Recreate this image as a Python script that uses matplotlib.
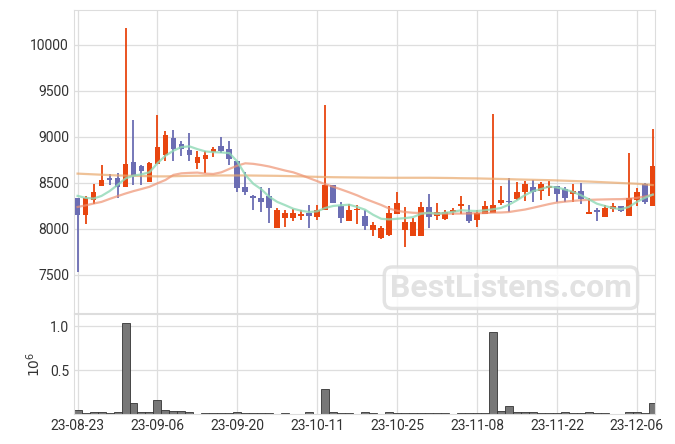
import numpy as np
import matplotlib
matplotlib.use("Agg")
import matplotlib.pyplot as plt

plt.rcParams['font.family'] = ['Roboto', 'DejaVu Sans']

# OHLC (one entry per trading day, 23-08-23 .. 23-12-08)
opens = [8330, 8150, 8310, 8470, 8550, 8550, 8450, 8730, 8680, 8510,
         8700, 8800, 8990, 8920, 8860, 8720, 8760, 8840, 8900, 8870,
         8740, 8450, 8360, 8340, 8360, 8010, 8120, 8120, 8140, 8170,
         8130, 8200, 8480, 8250, 8090, 8200, 8140, 7990, 7900, 7930,
         8160, 7990, 7920, 7920, 8240, 8140, 8110, 8180, 8250, 8180,
         8100, 8160, 8170, 8280, 8300, 8320, 8400, 8450, 8410, 8440,
         8470, 8430, 8380, 8410, 8160, 8200, 8130, 8220, 8250, 8140,
         8310, 8490, 8250]
highs = [8330, 8360, 8490, 8690, 8600, 8610, 10180, 9180, 8690, 8730,
         9240, 9060, 9070, 8950, 9040, 8850, 8850, 8890, 9000, 8950,
         8740, 8620, 8370, 8460, 8440, 8230, 8210, 8220, 8210, 8260,
         8260, 9350, 8480, 8290, 8270, 8260, 8210, 8080, 8030, 8250,
         8400, 8240, 8120, 8290, 8380, 8280, 8210, 8230, 8360, 8260,
         8200, 8300, 9250, 8470, 8550, 8510, 8520, 8530, 8510, 8520,
         8470, 8460, 8490, 8500, 8330, 8230, 8260, 8280, 8250, 8820,
         8440, 8500, 9080]
lows = [7530, 8050, 8270, 8470, 8480, 8340, 8450, 8480, 8480, 8510,
        8700, 8740, 8740, 8790, 8740, 8650, 8610, 8780, 8820, 8690,
        8400, 8370, 8210, 8180, 8060, 8010, 8020, 8090, 8100, 8010,
        8100, 8200, 8280, 8060, 8090, 8050, 7990, 7920, 7890, 7920,
        8160, 7800, 7920, 7920, 8010, 8100, 8100, 8150, 8160, 8060,
        8020, 8160, 8170, 8260, 8180, 8310, 8300, 8290, 8310, 8360,
        8290, 8290, 8290, 8270, 8160, 8090, 8130, 8180, 8180, 8140,
        8250, 8270, 8250]
closes = [8150, 8330, 8400, 8530, 8530, 8450, 8700, 8570, 8630, 8710,
          8890, 9020, 8870, 8870, 8800, 8780, 8800, 8870, 8850, 8760,
          8440, 8400, 8330, 8290, 8230, 8210, 8170, 8170, 8160, 8140,
          8210, 8480, 8280, 8120, 8210, 8220, 8030, 8040, 8010, 8170,
          8280, 8070, 8070, 8240, 8130, 8180, 8180, 8200, 8270, 8090,
          8170, 8250, 8260, 8310, 8295, 8400, 8490, 8400, 8490, 8470,
          8380, 8340, 8410, 8320, 8180, 8180, 8230, 8250, 8190, 8340,
          8400, 8290, 8680]

# moving averages as drawn
ma_short = [8358, 8337, 8329, 8358, 8410, 8476, 8548, 8578, 8592, 8615,
            8713, 8794, 8849, 8888, 8896, 8866, 8841, 8833, 8830, 8822,
            8731, 8586, 8490, 8430, 8348, 8293, 8257, 8219, 8197, 8183,
            8191, 8227, 8249, 8257, 8263, 8238, 8208, 8153, 8110, 8103,
            8110, 8117, 8128, 8164, 8175, 8164, 8175, 8185, 8202, 8197,
            8194, 8202, 8213, 8227, 8263, 8311, 8366, 8410, 8432, 8460,
            8450, 8428, 8402, 8366, 8322, 8274, 8249, 8227, 8213, 8238,
            8293, 8337, 8373]
ma_mid = [8238, 8255, 8275, 8293, 8325, 8355, 8384, 8410, 8433, 8457,
          8495, 8531, 8586, 8603, 8608, 8611, 8600, 8596, 8614, 8651,
          8687, 8712, 8706, 8693, 8677, 8655, 8633, 8614, 8584, 8551,
          8518, 8485, 8457, 8428, 8397, 8364, 8326, 8293, 8260, 8221,
          8197, 8183, 8175, 8172, 8172, 8166, 8166, 8166, 8166, 8168,
          8170, 8172, 8177, 8178, 8183, 8197, 8210, 8229, 8249, 8269,
          8286, 8296, 8304, 8311, 8315, 8318, 8320, 8322, 8323, 8327,
          8337, 8351, 8370]
ma_long = [8600, 8596, 8592, 8588, 8584, 8580, 8578, 8576, 8574, 8572,
           8570, 8570, 8572, 8574, 8576, 8577, 8578, 8579, 8580, 8580,
           8580, 8580, 8579, 8578, 8577, 8576, 8574, 8572, 8570, 8567,
           8565, 8563, 8561, 8560, 8559, 8558, 8557, 8556, 8556, 8555,
           8555, 8555, 8555, 8555, 8555, 8554, 8553, 8552, 8550, 8549,
           8548, 8546, 8544, 8542, 8540, 8537, 8535, 8533, 8531, 8529,
           8526, 8523, 8520, 8517, 8514, 8510, 8506, 8502, 8498, 8494,
           8490, 8483, 8476]

# volume in millions
volume = [0.045, 0.01, 0.02, 0.02, 0.008, 0.02, 1.04, 0.13, 0.02, 0.02,
          0.16, 0.042, 0.03, 0.03, 0.02, 0.005, 0.007, 0.007, 0.007, 0.007,
          0.018, 0.007, 0.007, 0.007, 0.007, 0.0, 0.007, 0.0, 0.0, 0.02,
          0.0, 0.29, 0.02, 0.007, 0.007, 0.0, 0.02, 0.007, 0.0, 0.02,
          0.007, 0.007, 0.007, 0.007, 0.007, 0.007, 0.007, 0.0, 0.007, 0.007,
          0.007, 0.007, 0.94, 0.03, 0.087, 0.02, 0.02, 0.02, 0.007, 0.007,
          0.007, 0.02, 0.007, 0.007, 0.02, 0.007, 0.007, 0.0, 0.0, 0.02,
          0.02, 0.007, 0.13]

tick_labels = ['23-08-23', '23-09-06', '23-09-20', '23-10-11',
               '23-10-25', '23-11-08', '23-11-22', '23-12-06']

up_col = '#e8450f'
down_col = '#6b6db3'

x = np.arange(len(opens))
o = np.array(opens); h = np.array(highs); l = np.array(lows); c = np.array(closes)
colors = [up_col if cc >= oo else down_col for oo, cc in zip(o, c)]

fig = plt.figure(figsize=(6.75, 4.44), dpi=100)
ax = fig.add_axes([0.1096, 0.295, 0.8604, 0.6825])
axv = fig.add_axes([0.1096, 0.0676, 0.8604, 0.2252], sharex=ax)

for a in (ax, axv):
    a.set_axisbelow(True)
    a.grid(True, color='#dedede', lw=0.9)
    for s in a.spines.values():
        s.set_color('#dddddd')
    a.tick_params(length=0, labelsize=10, colors='#333333')

# candles
ax.vlines(x, l, h, colors=colors, lw=1.3, zorder=2)
body_lo = np.minimum(o, c)
body_h = np.maximum(np.abs(c - o), 8)
ax.bar(x, body_h, bottom=body_lo, width=0.72, color=colors, zorder=3)

ax.plot(x, ma_long, color='#e9a86c', lw=1.6, alpha=0.7, zorder=4)
ax.plot(x, ma_mid, color='#ee9372', lw=1.6, alpha=0.7, zorder=4)
ax.plot(x, ma_short, color='#8fd9b6', lw=1.6, alpha=0.8, zorder=4)

ax.set_ylim(7087, 10376)
ax.set_yticks([7500, 8000, 8500, 9000, 9500, 10000])
ax.set_xlim(-0.45, 72.25)
ax.tick_params(labelbottom=False)

# volume
axv.bar(x, volume, width=1.0, color='#777777', edgecolor='#333333', lw=0.6, zorder=2)
axv.set_ylim(0, 1.14)
axv.set_yticks([0.5, 1.0])
axv.set_yticklabels(['0.5', '1.0'])
axv.set_ylabel('$10^6$', fontsize=10, color='#333333', labelpad=5)
axv.set_xticks(np.arange(0, 71, 10))
axv.set_xticklabels(tick_labels)

# watermark
fig.text(0.757, 0.352, 'BestListens.com', fontsize=23, fontweight='bold',
         color='#e2e2e2', ha='center', va='center', zorder=10,
         bbox=dict(boxstyle='round,pad=0.18,rounding_size=0.25', fc='white',
                   ec='#dddddd', lw=2.5, alpha=0.8))

fig.savefig('out.png', dpi=100)
